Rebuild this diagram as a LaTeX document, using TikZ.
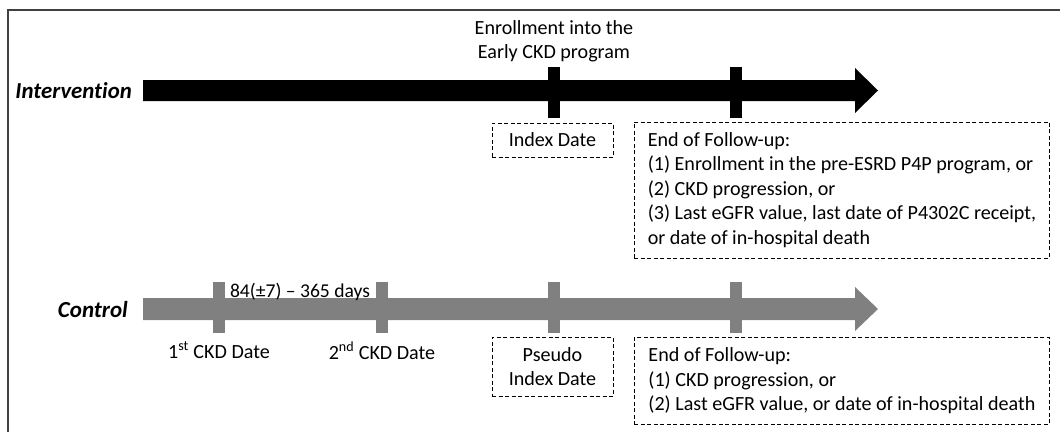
\documentclass[tikz,border=0pt]{standalone}
\usepackage{fontspec}
\setmainfont{Carlito}[Ligatures=NoCommon]
\usetikzlibrary{positioning}
\definecolor{ctrlgray}{RGB}{128,128,128}
\definecolor{framegray}{RGB}{64,64,64}

\begin{document}
\begin{tikzpicture}[x=1pt, y=-1pt, font=\fontsize{20.1}{24.5}\selectfont,
  every node/.style={inner sep=0pt},
  tick/.style={rectangle, fill=#1, minimum width=12pt, minimum height=51pt},
  datebox/.style={draw, dash pattern=on 4pt off 2.5pt, line width=0.9pt, align=center, minimum width=121pt},
  endbox/.style={draw, dash pattern=on 4pt off 2.5pt, line width=0.9pt, anchor=north west, minimum width=415pt, align=left},
  armlabel/.style={anchor=east, font=\fontsize{22.8}{24}\selectfont\bfseries\itshape}]
  \useasboundingbox (0,0) rectangle (1060,432);
  \draw[framegray, line width=1.2pt] (1060,10) -- (8,10) -- (8,432);

  \fill (143,80) -- (855,80) -- (855,68) -- (878,90.5) -- (855,113) -- (855,101) -- (143,101) -- cycle;
  \node[tick=black] (enr) at (554,92) {};
  \node[tick=black] (fu) at (736,92) {};

  \fill[ctrlgray] (143,298) -- (855,298) -- (855,287) -- (878,309) -- (855,331) -- (855,320) -- (143,320) -- cycle;
  \node[tick=ctrlgray] (ckdA) at (219,307) {};
  \node[tick=ctrlgray] (ckdB) at (382,307) {};
  \node[tick=ctrlgray] (pidx) at (554,307) {};
  \node[tick=ctrlgray] (cfu) at (736,307) {};

  \node[armlabel] (intv) at (132,91) {Intervention};
  \node[armlabel, font=\fontsize{23}{24}\selectfont\bfseries\itshape] (ctrl) at (128,310) {Control};

  \node[align=center, above=4pt of enr] (enrtxt) {Enrollment into the\\Early CKD program};
  \node[datebox, minimum height=34pt] (idx) at (552.5,140) {Index Date};
  \node[endbox, minimum height=136pt] (end1) at (634,121.5) {End of Follow-up:\\(1) Enrollment in the pre-ESRD P4P program, or\\(2) CKD progression, or\\(3) Last eGFR value, last date of P4302C receipt,\\or date of in-hospital death};

  \node[anchor=south, font=\fontsize{19.6}{24.5}\selectfont] (gap) at (300,301) {84(±7) -- 365 days};
  \node[below=9pt of ckdA] (ckdAtxt) {1\textsuperscript{st} CKD Date};
  \node[below=9pt of ckdB] (ckdBtxt) {2\textsuperscript{nd} CKD Date};
  \node[datebox, minimum height=59pt] (pidxbox) at (552.5,366.5) {Pseudo\\Index Date};
  \node[endbox, minimum height=87pt] (end2) at (634,337) {End of Follow-up:\\(1) CKD progression, or\\(2) Last eGFR value, or date of in-hospital death};
\end{tikzpicture}
\end{document}
